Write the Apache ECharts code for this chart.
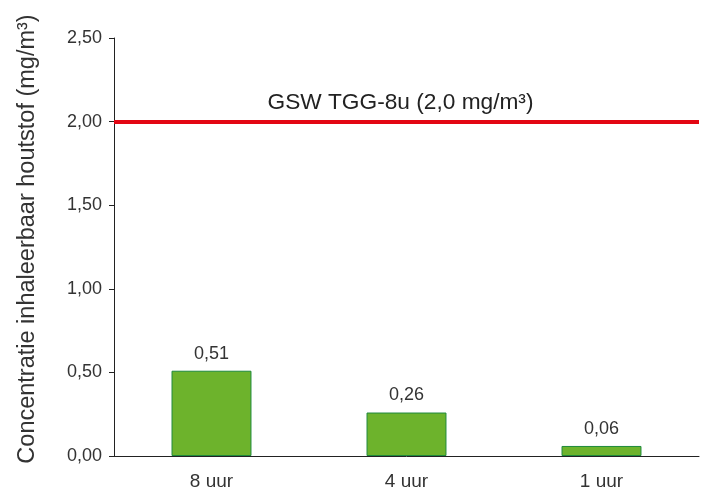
<!DOCTYPE html>
<html><head><meta charset="utf-8">
<script src="https://cdn.jsdelivr.net/npm/echarts@6/dist/echarts.min.js"></script>
<style>html,body{margin:0;padding:0;background:#fff}#c{width:707px;height:488px}</style>
</head><body><div id="c"></div>
<script>
const categories = ['8 uur', '4 uur', '1 uur'];
const values = [0.51, 0.26, 0.06];
const yTicks = [0, 0.5, 1.0, 1.5, 2.0, 2.5];
const limitValue = 2.0;
const limitLabel = 'GSW TGG-8u (2,0 mg/m³)';
const yName = 'Concentratie inhaleerbaar houtstof (mg/m³)';

const fmt = v => v.toFixed(2).replace('.', ',');
const chart = echarts.init(document.getElementById('c'), null, {renderer: 'canvas'});
chart.setOption({
  animation: false,
  textStyle: {fontFamily: 'Liberation Sans, Arial, sans-serif'},
  grid: {left: 114, right: 8, top: 38, bottom: 32, containLabel: false, outerBoundsMode: 'none'},
  xAxis: {
    type: 'category', data: categories,
    axisLine: {lineStyle: {color: '#222', width: 1}},
    axisTick: {show: false},
    axisLabel: {color: '#333', fontSize: 19, margin: 16}
  },
  yAxis: {
    type: 'value', min: yTicks[0], max: yTicks[yTicks.length - 1], interval: 0.5,
    name: yName, nameLocation: 'middle', nameGap: 74,
    nameTextStyle: {color: '#333', fontSize: 23.5, padding: [0, 0, 0, 16]},
    axisLine: {show: true, lineStyle: {color: '#222', width: 1}},
    axisTick: {show: true, length: 5, lineStyle: {color: '#222'}},
    splitLine: {show: false},
    axisLabel: {color: '#333', fontSize: 18, margin: 12, formatter: fmt}
  },
  series: [{
    type: 'bar', data: values, barWidth: '41%',
    itemStyle: {color: '#6db32c', borderColor: '#1f8a3c', borderWidth: 1},
    label: {show: true, position: 'top', distance: 8, color: '#333', fontSize: 18, formatter: p => fmt(p.value)},
    markLine: {
      silent: true, symbol: 'none',
      lineStyle: {color: '#e30613', width: 4, type: 'solid'},
      label: {show: true, position: 'insideMiddleTop', formatter: limitLabel, color: '#222', fontSize: 22.7, distance: 7, padding: [0, 12, 0, 0]},
      data: [{yAxis: limitValue}]
    }
  }]
});
</script></body></html>
